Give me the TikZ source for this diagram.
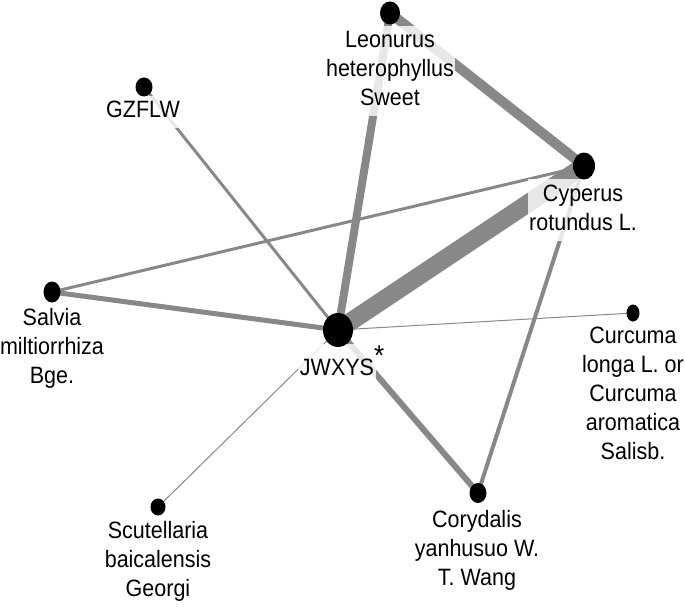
\documentclass[tikz,border=0pt]{standalone}
\usepackage{fontspec}
\usepackage{graphicx}
\setmainfont{Liberation Sans}
\usetikzlibrary{shapes.geometric}
\pgfdeclarelayer{edges}
\pgfdeclarelayer{labels}
\pgfsetlayers{edges,labels,main}
\definecolor{edgegray}{RGB}{136,136,136}
\newcommand\vs[1]{\scalebox{1}[1.1]{\begin{tabular}{@{}c@{}}#1\end{tabular}}}
\begin{document}
\begin{tikzpicture}[x=1pt,y=-1pt,
  vert/.style={ellipse, fill=black, inner sep=0pt},
  lab/.style={align=center, font=\fontsize{21.5}{26.4}\selectfont, fill=white, fill opacity=0.8, text opacity=1, inner sep=1.5pt},
  link/.style={draw=edgegray, line cap=butt}]
\useasboundingbox (0,0) rectangle (685,607);
% vertices
\node[vert, minimum width=30pt, minimum height=34pt] (jw) at (338,330) {};
\node[vert, minimum width=20pt, minimum height=23pt] (le) at (390,13) {};
\node[vert, minimum width=22pt, minimum height=27pt] (cy) at (584,166) {};
\node[vert, minimum width=17pt, minimum height=19pt] (gz) at (144,87) {};
\node[vert, minimum width=17pt, minimum height=21pt] (sa) at (52,292) {};
\node[vert, minimum width=17pt, minimum height=20pt] (co) at (478,493) {};
\node[vert, minimum width=13pt, minimum height=17pt] (cu) at (633,313) {};
\node[vert, minimum width=15pt, minimum height=17pt] (sc) at (158,507) {};
% labels
\begin{pgfonlayer}{labels}
\node[lab] (lle) at (390,71) {\vs{Leonurus\\heterophyllus\\Sweet}};
\node[lab] (lgz) at (143,112) {\vs{GZFLW}};
\node[lab] (lcy) at (583,210) {\vs{Cyperus\\rotundus L.}};
\node[lab] (ljw) at (337,365) {\vs{JWXYS\rlap{\raisebox{9pt}{\fontsize{26}{26}\selectfont *}}}};
\node[lab] (lsa) at (52,349) {\vs{Salvia\\miltiorrhiza\\Bge.}};
\node[lab] (lco) at (477,551) {\vs{Corydalis\\yanhusuo W.\\T. Wang}};
\node[lab] (lcu) at (633,396) {\vs{Curcuma\\longa L. or\\Curcuma\\aromatica\\Salisb.}};
\node[lab] (lsc) at (158,562) {\vs{Scutellaria\\baicalensis\\Georgi}};
\end{pgfonlayer}
% edges
\begin{pgfonlayer}{edges}
\draw[link, line width=18pt] (jw.center) -- (cy.center);
\draw[link, line width=10pt] (le.center) -- (cy.center);
\draw[link, line width=8pt] (jw.center) -- (le.center);
\draw[link, line width=6pt] (jw.center) -- (co.center);
\draw[link, line width=5pt] (jw.center) -- (sa.center);
\draw[link, line width=3pt] (sa.center) -- (cy.center);
\draw[link, line width=4pt] (co.center) -- (cy.center);
\draw[link, line width=3pt] (gz.center) -- (jw.center);
\draw[link, line width=1pt] (jw.center) -- (cu.center);
\draw[link, line width=1pt] (jw.center) -- (sc.center);
\end{pgfonlayer}
\end{tikzpicture}
\end{document}
